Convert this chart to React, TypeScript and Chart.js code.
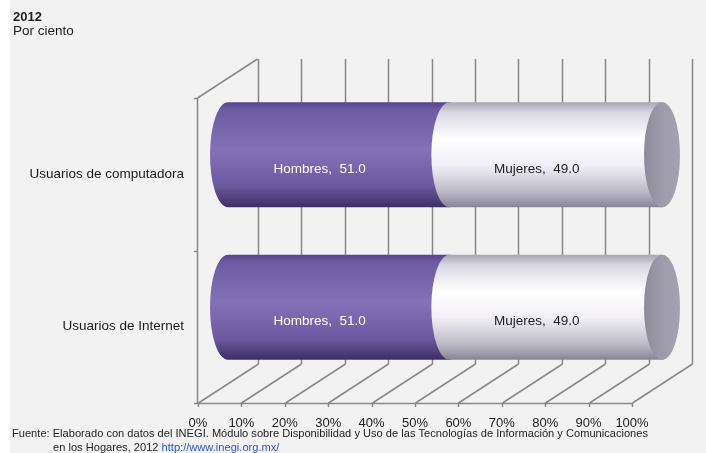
import React, { useEffect, useRef } from "react";
import { Chart, registerables } from "chart.js";

Chart.register(...registerables);

// ---- data ----
const categories = ["Usuarios de computadora", "Usuarios de Internet"];
const seriesNames = ["Hombres", "Mujeres"];
const hombres = [51.0, 51.0];
const mujeres = [49.0, 49.0];
const yearLabel = "2012";
const unitLabel = "Por ciento";
const sourceLine1 =
  "Fuente: Elaborado con datos del INEGI. Módulo sobre Disponibilidad y Uso de las Tecnologías de Información y Comunicaciones";
const sourceLine2 = "en los Hogares, 2012 ";
const sourceLink = "http://www.inegi.org.mx/";

// ---- 3D geometry / style ----
const DEPTH_X = 60;
const DEPTH_Y = -39;
const BAR_SHIFT_X = 30;
const BAR_SHIFT_Y = -19.5;
const CAP_RX = 18;
const FONT = "'Liberation Sans', Arial, sans-serif";
const GRID_COLOR = "#888888";

const purpleStops: [number, string][] = [
  [0, "#54448a"],
  [0.07, "#6c5aa3"],
  [0.45, "#8472b8"],
  [0.8, "#6b589e"],
  [1, "#3c2f63"],
];
const whiteStops: [number, string][] = [
  [0, "#a7a4b3"],
  [0.1, "#d9d7e2"],
  [0.35, "#ffffff"],
  [0.6, "#f1eff5"],
  [0.85, "#bdbac9"],
  [1, "#878497"],
];
const segStops = [purpleStops, whiteStops];
const labelColors = ["#ffffff", "#1e1e1e"];

const bgPlugin = {
  id: "bg",
  beforeDraw(chart: any) {
    const { ctx, width, height } = chart;
    ctx.save();
    ctx.fillStyle = "#ffffff";
    ctx.fillRect(0, 0, width, height);
    ctx.fillStyle = "#f2f2f3";
    ctx.fillRect(10, 0, width - 10, height);
    ctx.restore();
  },
};

const wallsPlugin = {
  id: "walls",
  beforeDatasetsDraw(chart: any) {
    const { ctx, chartArea } = chart;
    const xs = chart.scales.x;
    const { left, right, top, bottom } = chartArea;
    ctx.save();
    ctx.strokeStyle = GRID_COLOR;
    ctx.lineWidth = 1.5;
    ctx.beginPath();
    xs.ticks.forEach((t: any) => {
      const fx = Math.round(xs.getPixelForValue(t.value)) + 0.5;
      ctx.moveTo(fx + DEPTH_X, top + DEPTH_Y);
      ctx.lineTo(fx + DEPTH_X, bottom + DEPTH_Y);
      ctx.moveTo(fx, bottom);
      ctx.lineTo(fx + DEPTH_X, bottom + DEPTH_Y);
      ctx.moveTo(fx, bottom);
      ctx.lineTo(fx, bottom + 4);
    });
    ctx.moveTo(left, bottom + 0.5);
    ctx.lineTo(right, bottom + 0.5);
    ctx.moveTo(left - 0.5, top);
    ctx.lineTo(left - 0.5, bottom);
    ctx.moveTo(left - 0.5, top);
    ctx.lineTo(left - 0.5 + DEPTH_X, top + DEPTH_Y);
    const ys = chart.scales.y;
    const n = ys.ticks.length;
    for (let i = 0; i <= n; i++) {
      const py = Math.round(top + ((bottom - top) * i) / n) + 0.5;
      ctx.moveTo(left - 4, py);
      ctx.lineTo(left, py);
    }
    ctx.stroke();
    ctx.restore();
  },
};

const cylinderPlugin = {
  id: "cylinders",
  afterDatasetsDraw(chart: any) {
    const { ctx } = chart;
    const nDs = chart.data.datasets.length;
    const nCat = chart.data.labels.length;
    ctx.save();
    for (let i = 0; i < nCat; i++) {
      let lastEnd = 0;
      let cy = 0;
      let ry = 0;
      for (let d = 0; d < nDs; d++) {
        const el: any = chart.getDatasetMeta(d).data[i];
        const p = el.getProps(["x", "y", "base", "height"], true);
        const xs = Math.min(p.base, p.x) + BAR_SHIFT_X;
        const xe = Math.max(p.base, p.x) + BAR_SHIFT_X;
        cy = p.y + BAR_SHIFT_Y;
        ry = p.height / 2;
        const g = ctx.createLinearGradient(0, cy - ry, 0, cy + ry);
        segStops[d].forEach(([o, c]) => g.addColorStop(o, c));
        ctx.beginPath();
        ctx.moveTo(xs, cy - ry);
        ctx.lineTo(xe, cy - ry);
        ctx.ellipse(xe, cy, CAP_RX, ry, 0, -Math.PI / 2, Math.PI / 2, false);
        ctx.lineTo(xs, cy + ry);
        ctx.ellipse(xs, cy, CAP_RX, ry, 0, Math.PI / 2, (3 * Math.PI) / 2, false);
        ctx.closePath();
        ctx.fillStyle = g;
        ctx.fill();
        lastEnd = xe;
      }
      const cg = ctx.createLinearGradient(lastEnd - CAP_RX, 0, lastEnd + CAP_RX, 0);
      cg.addColorStop(0, "#8e8c9b");
      cg.addColorStop(0.5, "#9e9cab");
      cg.addColorStop(1, "#a4a2b0");
      ctx.beginPath();
      ctx.ellipse(lastEnd, cy, CAP_RX, ry, 0, 0, Math.PI * 2);
      ctx.fillStyle = cg;
      ctx.fill();
    }
    ctx.font = `13.5px ${FONT}`;
    ctx.textAlign = "center";
    ctx.textBaseline = "middle";
    for (let d = 0; d < nDs; d++) {
      const ds = chart.data.datasets[d];
      chart.getDatasetMeta(d).data.forEach((el: any, i: number) => {
        const p = el.getProps(["x", "y", "base"], true);
        const v = ds.data[i] as number;
        ctx.fillStyle = labelColors[d];
        ctx.fillText(`${ds.label},  ${v.toFixed(1)}`, (p.x + p.base) / 2 + 11, p.y - 5);
      });
    }
    ctx.restore();
  },
};

const textPlugin = {
  id: "texts",
  afterDraw(chart: any) {
    const { ctx } = chart;
    ctx.save();
    ctx.textAlign = "left";
    ctx.textBaseline = "middle";
    ctx.fillStyle = "#1e1e1e";
    ctx.font = `bold 13px ${FONT}`;
    ctx.fillText(yearLabel, 13, 17);
    ctx.font = `13.5px ${FONT}`;
    ctx.fillText(unitLabel, 13, 31);

    ctx.font = `11px ${FONT}`;
    const w1 = ctx.measureText(sourceLine1).width;
    const target = 636;
    const sx = target / w1;
    ctx.save();
    ctx.translate(12, 434);
    ctx.scale(sx, 1);
    ctx.fillText(sourceLine1, 0, 0);
    ctx.restore();

    const w2 = ctx.measureText(sourceLine2).width * sx;
    ctx.save();
    ctx.translate(53, 448);
    ctx.scale(sx, 1);
    ctx.fillText(sourceLine2, 0, 0);
    ctx.restore();
    const wl = ctx.measureText(sourceLink).width * sx;
    ctx.save();
    ctx.translate(53 + w2, 448);
    ctx.scale(sx, 1);
    ctx.fillStyle = "#2a55c8";
    ctx.fillText(sourceLink, 0, 0);
    ctx.restore();
    ctx.strokeStyle = "#2a55c8";
    ctx.lineWidth = 1;
    ctx.beginPath();
    ctx.moveTo(53 + w2, 453.5);
    ctx.lineTo(53 + w2 + wl, 453.5);
    ctx.stroke();
    ctx.restore();
  },
};

export default function App() {
  const ref = useRef<HTMLCanvasElement | null>(null);
  useEffect(() => {
    if (!ref.current) return;
    const chart = new Chart(ref.current, {
      type: "bar",
      data: {
        labels: categories,
        datasets: [
          { label: seriesNames[0], data: hombres, backgroundColor: "rgba(0,0,0,0)", borderWidth: 0 },
          { label: seriesNames[1], data: mujeres, backgroundColor: "rgba(0,0,0,0)", borderWidth: 0 },
        ],
      },
      options: {
        indexAxis: "y",
        animation: false,
        responsive: false,
        devicePixelRatio: 1,
        layout: { padding: { left: 0, top: 98, right: 74, bottom: 0 } },
        plugins: { legend: { display: false }, tooltip: { enabled: false }, title: { display: false } },
        datasets: { bar: { barPercentage: 0.69, categoryPercentage: 1 } },
        scales: {
          x: {
            type: "linear",
            stacked: true,
            min: 0,
            max: 100,
            border: { display: false },
            grid: { display: false, drawTicks: false },
            ticks: {
              stepSize: 10,
              padding: 13,
              color: "#222222",
              font: { family: FONT, size: 13 },
              callback: (v: any) => `${v}%`,
            },
            afterFit: (s: any) => {
              s.height = 50;
            },
          },
          y: {
            type: "category",
            stacked: true,
            border: { display: false },
            grid: { display: false, drawTicks: false },
            ticks: { padding: 14, color: "#1a1a1a", font: { family: FONT, size: 13.5 } },
            afterFit: (s: any) => {
              s.width = 198;
            },
          },
        },
      },
      plugins: [bgPlugin, wallsPlugin, cylinderPlugin, textPlugin],
    });
    return () => chart.destroy();
  }, []);
  return (
    <div style={{ position: "absolute", left: 0, top: 0, width: 706, height: 453 }}>
      <canvas ref={ref} width={706} height={453} style={{ width: 706, height: 453, display: "block" }} />
    </div>
  );
}
